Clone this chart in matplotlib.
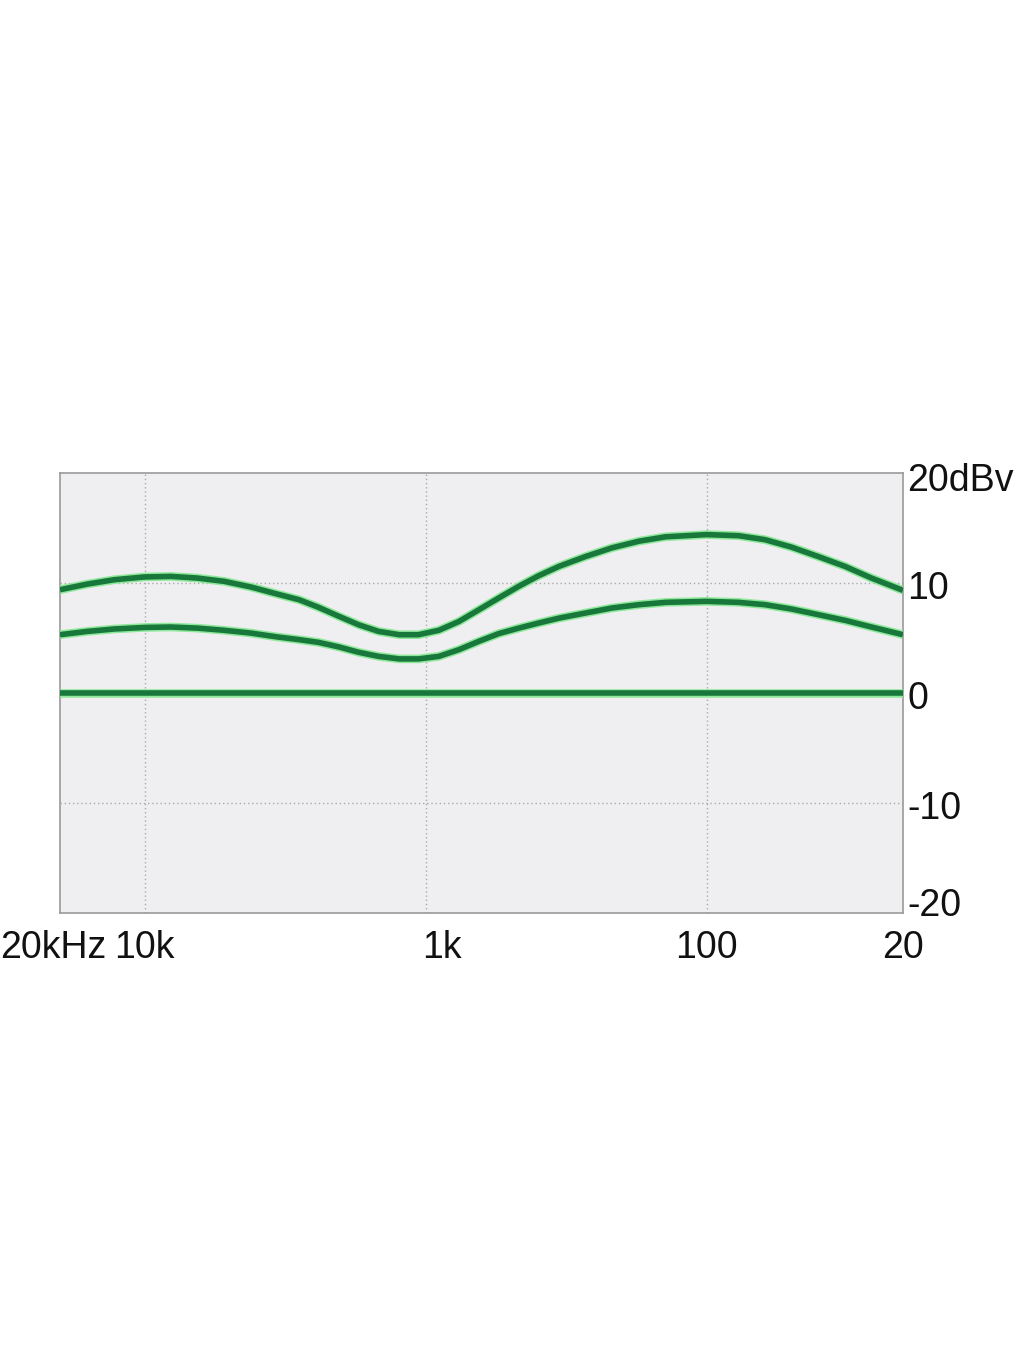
import matplotlib
matplotlib.use("Agg")
import matplotlib.pyplot as plt
import matplotlib.transforms as mtransforms

plt.rcParams['font.family'] = ['Liberation Sans', 'DejaVu Sans']

freq = [20000, 16000, 12800, 10000, 8060, 6500, 5210, 4190, 3380, 2820,
        2400, 2030, 1730, 1470, 1240, 1060, 897, 761, 646, 549,
        466, 396, 336, 270, 217, 174, 140, 100, 77, 62,
        50, 40, 32.1, 25.9, 20]
# level in dB
upper = [9.39, 9.9, 10.3, 10.55, 10.6, 10.45, 10.15, 9.64, 9.0, 8.48,
         7.78, 6.96, 6.2, 5.6, 5.3, 5.3, 5.7, 6.5, 7.57, 8.64,
         9.7, 10.66, 11.5, 12.4, 13.2, 13.8, 14.2, 14.4, 14.3, 13.94,
         13.27, 12.4, 11.5, 10.45, 9.33]
middle = [5.3, 5.6, 5.82, 5.96, 6.0, 5.9, 5.7, 5.45, 5.1, 4.85,
          4.6, 4.18, 3.7, 3.33, 3.1, 3.1, 3.33, 3.94, 4.7, 5.4,
          5.9, 6.36, 6.8, 7.27, 7.73, 8.03, 8.24, 8.33, 8.24, 8.03,
          7.64, 7.12, 6.6, 6.0, 5.3]
flat = [0.0] * len(freq)

x_ticks = [20, 100, 1000, 10000, 20000]
x_labels = ["20", "100", "1k", "10k", "20kHz"]
y_ticks = [-20, -10, 0, 10, 20]
y_labels = ["-20", "-10", "0", "10", "20dBv"]

fig = plt.figure(figsize=(10.24, 13.65), dpi=100)
ax = fig.add_axes([60 / 1024, 452 / 1365, 843 / 1024, 440 / 1365])
ax.set_facecolor("#efeff1")

for ys in (upper, middle, flat):
    ax.plot(freq, ys, color="#8ee89a", lw=6.2, solid_capstyle="butt",
            solid_joinstyle="round", zorder=3)
    ax.plot(freq, ys, color="#18773a", lw=4.0, solid_capstyle="butt",
            solid_joinstyle="round", zorder=4)

ax.set_xscale("log")
ax.set_xlim(20000, 20)   # mirrored: low frequencies on the right
ax.set_ylim(-20, 20)
ax.minorticks_off()

ax.set_xticks(x_ticks)
ax.set_xticklabels(x_labels)
ax.set_yticks(y_ticks)
ax.set_yticklabels(y_labels)
ax.yaxis.tick_right()
ax.tick_params(axis="both", length=0, labelsize=27, colors="#111111")
ax.tick_params(axis="y", pad=3)
ax.tick_params(axis="x", pad=12)
for lab in ax.get_yticklabels():
    lab.set_horizontalalignment("left")

# small nudges of labels so they sit as in the picture
dpi_scale = fig.dpi_scale_trans
xoff = {"1k": 16, "20kHz": -7}
for lab in ax.get_xticklabels():
    dx = xoff.get(lab.get_text(), 0)
    if dx:
        lab.set_transform(lab.get_transform() +
                          mtransforms.ScaledTranslation(dx / 100, 0, dpi_scale))
yoff = {"-20": 11, "20dBv": -4}
for lab in ax.get_yticklabels():
    dy = yoff.get(lab.get_text(), -2)
    lab.set_transform(lab.get_transform() +
                      mtransforms.ScaledTranslation(0, dy / 100, dpi_scale))

ax.grid(True, which="major", color="#aaaaaa", linestyle=(0, (1, 2)), lw=1.0)
# no grid line along the frame
for gl, t in zip(ax.get_xgridlines(), x_ticks):
    if t in (20, 20000):
        gl.set_visible(False)
for gl, t in zip(ax.get_ygridlines(), y_ticks):
    if t in (-20, 20):
        gl.set_visible(False)

for sp in ax.spines.values():
    sp.set_color("#9a9a9a")
    sp.set_linewidth(1.2)

fig.savefig("out.png", dpi=100, facecolor="white")
